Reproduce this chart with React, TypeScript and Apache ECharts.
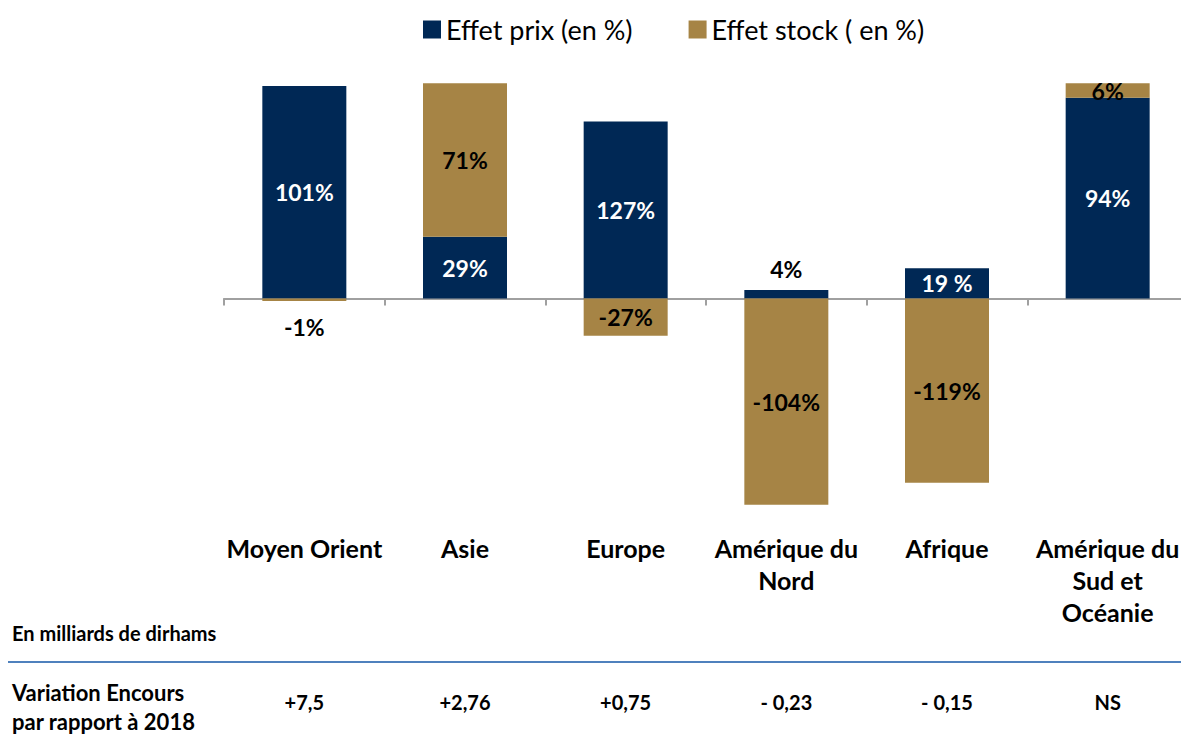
import React, { useEffect, useRef } from "react";
import * as echarts from "echarts";

// Categories (line breaks as in the reference)
const categories = [
  "Moyen Orient",
  "Asie",
  "Europe",
  "Amérique du\nNord",
  "Afrique",
  "Amérique du\nSud et\nOcéanie",
];
// Bar heights as drawn in the picture (share of the tallest stacked column, in %)
const prixHeights = [98.7, 28.7, 82.2, 3.9, 14.0, 93.3];
const stockHeights = [-1.2, 71.3, -17.3, -95.8, -85.6, 6.7];
// Data labels printed on the bars
const prixLabels = ["101%", "29%", "127%", "4%", "19 %", "94%"];
const stockLabels = ["-1%", "71%", "-27%", "-104%", "-119%", "6%"];
// Variation Encours par rapport à 2018 (en milliards de dirhams)
const variations = ["+7,5", "+2,76", "+0,75", "- 0,23", "- 0,15", "NS"];
const seriesNames = ["Effet prix (en %)", "Effet stock ( en %)"];

const NAVY = "#002855";
const GOLD = "#A68445";
const FONT = "Lato";

export default function App() {
  const ref = useRef<HTMLDivElement>(null);

  useEffect(() => {
    if (!ref.current) return;
    const chart = echarts.init(ref.current, undefined, { renderer: "svg" });

    const labelBase = {
      show: true,
      fontFamily: FONT,
      fontWeight: "bold" as const,
      fontSize: 23,
    };

    const prixData = prixHeights.map((v, i) => {
      const small = Math.abs(v) < 5;
      return {
        value: v,
        label: {
          ...labelBase,
          position: small ? "top" : "inside",
          distance: 10,
          color: small ? "#000" : "#fff",
          formatter: prixLabels[i],
        },
      };
    });
    const stockData = stockHeights.map((v, i) => {
      const small = Math.abs(v) < 5;
      return {
        value: v,
        label: {
          ...labelBase,
          position: small ? (v < 0 ? "bottom" : "inside") : "inside",
          distance: 14,
          color: "#000",
          formatter: stockLabels[i],
        },
      };
    });

    chart.setOption({
      animation: false,
      backgroundColor: "#fff",
      textStyle: { fontFamily: FONT },
      legend: {
        data: seriesNames,
        left: 418,
        top: 11,
        itemWidth: 18,
        itemHeight: 18,
        itemGap: 56,
        icon: "rect",
        textStyle: { fontFamily: FONT, fontSize: 27, color: "#000" },
      },
      grid: {
        left: 224,
        top: 83.3,
        width: 964,
        height: 430.4,
        containLabel: false,
        outerBoundsMode: "none",
      },
      xAxis: [
        {
          type: "category",
          data: categories,
          position: "bottom",
          axisLine: { show: true, onZero: true, lineStyle: { color: "#a0a0a0", width: 2 } },
          axisTick: { show: true, length: 7, lineStyle: { color: "#a0a0a0", width: 2 } },
          axisLabel: { show: false },
          splitLine: { show: false },
        },
        {
          type: "category",
          data: categories,
          position: "bottom",
          axisLine: { show: false, onZero: false },
          axisTick: { show: false },
          axisLabel: {
            interval: 0,
            margin: 18,
            fontFamily: FONT,
            fontWeight: "bold",
            fontSize: 25,
            lineHeight: 32,
            color: "#000",
            align: "center",
          },
        },
        {
          type: "category",
          data: variations,
          position: "bottom",
          axisLine: { show: false, onZero: false },
          axisTick: { show: false },
          axisLabel: {
            interval: 0,
            margin: 176,
            fontFamily: FONT,
            fontWeight: "bold",
            fontSize: 20,
            lineHeight: 24,
            color: "#000",
          },
        },
      ],
      yAxis: {
        type: "value",
        min: -100,
        max: 100,
        show: false,
        splitLine: { show: false },
      },
      series: [
        {
          name: seriesNames[0],
          type: "bar",
          stack: "total",
          xAxisIndex: 0,
          barWidth: 84,
          itemStyle: { color: NAVY },
          data: prixData,
        },
        {
          name: seriesNames[1],
          type: "bar",
          stack: "total",
          xAxisIndex: 0,
          barWidth: 84,
          itemStyle: { color: GOLD },
          data: stockData,
        },
      ],
      graphic: [
        {
          type: "text",
          left: 12,
          top: 623,
          style: {
            text: "En milliards de dirhams",
            fontFamily: FONT,
            fontWeight: "bold",
            fontSize: 20,
            fill: "#000",
          },
        },
        {
          type: "line",
          shape: { x1: 8, y1: 662, x2: 1181, y2: 662 },
          style: { stroke: "#4f81bd", lineWidth: 2 },
        },
        {
          type: "text",
          left: 12,
          top: 678,
          style: {
            text: "Variation Encours\npar rapport à 2018",
            fontFamily: FONT,
            fontWeight: "bold",
            fontSize: 22,
            lineHeight: 29,
            fill: "#000",
          },
        },
      ],
    });

    return () => chart.dispose();
  }, []);

  return (
    <div
      ref={ref}
      style={{ position: "absolute", left: 0, top: 0, width: 1181, height: 734 }}
    />
  );
}
